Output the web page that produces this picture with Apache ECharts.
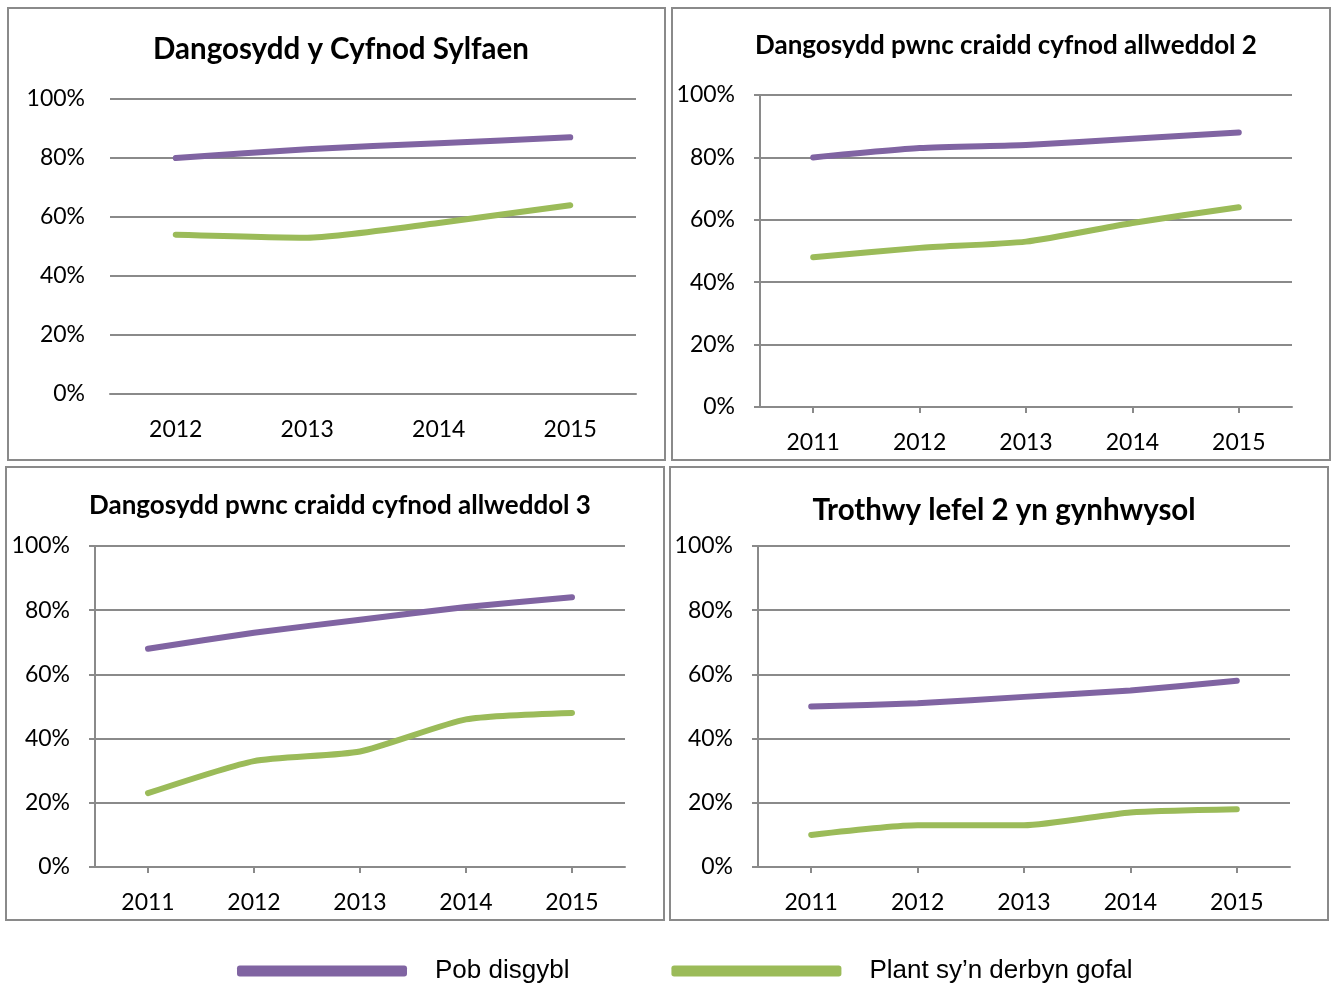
<!DOCTYPE html>
<html>
<head>
<meta charset="utf-8">
<script src="https://cdn.jsdelivr.net/npm/echarts@6/dist/echarts.min.js"></script>
<style>
  html, body { margin: 0; padding: 0; background: #fff; }
  #chart { width: 1336px; height: 985px; }
</style>
</head>
<body>
<div id="chart"></div>
<script>
// data (percent)
var titles = [
  'Dangosydd y Cyfnod Sylfaen',
  'Dangosydd pwnc craidd cyfnod allweddol 2',
  'Dangosydd pwnc craidd cyfnod allweddol 3',
  'Trothwy lefel 2 yn gynhwysol'
]
var years1 = ['2012', '2013', '2014', '2015']
var years5 = ['2011', '2012', '2013', '2014', '2015']
var seriesNames = ['Pob disgybl', 'Plant sy\u2019n derbyn gofal']

var fpAll = [80, 83, 85, 87]          // Cyfnod Sylfaen - pob disgybl
var fpCare = [54, 53, 58, 64]
var ks2All = [80, 83, 84, 86, 88]
var ks2Care = [48, 51, 53, 59, 64]
var ks3All = [68, 73, 77, 81, 84]
var ks3Care = [23, 33, 36, 46, 48]
var l2All = [50, 51, 53, 55, 58]
var l2Care = [10, 13, 13, 17, 18]

var PURPLE = '#8064A2'
var GREEN = '#9BBB59'
var GREY = '#8a8a8a'
var FONT = 'Lato, "Open Sans", sans-serif'

// panel layout: frame box + grid box + title position
var panels = [
  { box: [8, 8, 657, 452], grid: { left: 110, top: 99, width: 526, height: 295 }, title: [336, 44], size: 29.5, cats: years1, axis: false, data: [fpAll, fpCare] },
  { box: [672, 8, 658, 452], grid: { left: 760, top: 95, width: 532, height: 312 }, title: [1001, 41], size: 26, cats: years5, axis: true, data: [ks2All, ks2Care] },
  { box: [6, 467, 658, 453], grid: { left: 95, top: 546, width: 530, height: 321 }, title: [335, 501], size: 26, cats: years5, axis: true, data: [ks3All, ks3Care] },
  { box: [670, 467, 658, 453], grid: { left: 758, top: 546, width: 532, height: 321 }, title: [999, 505], size: 29.5, cats: years5, axis: true, data: [l2All, l2Care] }
]

var option = {
  backgroundColor: '#fff',
  animation: false,
  title: [],
  grid: [],
  xAxis: [],
  yAxis: [],
  series: [],
  graphic: [],
  legend: {
    left: 232, top: 953,
    itemWidth: 170, itemHeight: 11,
    itemGap: 102,
    icon: 'roundRect',
    data: seriesNames,
    textStyle: { fontFamily: '"Liberation Sans", Arial, sans-serif', fontSize: 26, color: '#000', padding: [0, 0, 3, 23] }
  }
}

panels.forEach(function (p, i) {
  option.graphic.push({
    type: 'rect', silent: true,
    shape: { x: p.box[0], y: p.box[1], width: p.box[2], height: p.box[3] },
    style: { fill: 'none', stroke: GREY, lineWidth: 2 }
  })
  option.title.push({
    text: titles[i],
    left: p.title[0], top: p.title[1],
    textAlign: 'center', textVerticalAlign: 'middle',
    textStyle: { fontFamily: FONT, fontWeight: 'bold', fontSize: p.size, color: '#000' }
  })
  option.grid.push(p.grid)
  option.xAxis.push({
    type: 'category', gridIndex: i, data: p.cats, boundaryGap: true,
    axisLine: { show: true, lineStyle: { color: GREY, width: 2 } },
    axisTick: { show: p.axis, alignWithLabel: true, length: 6, lineStyle: { color: GREY, width: 2 } },
    axisLabel: { margin: 24, fontFamily: FONT, fontSize: 23, color: '#000' }
  })
  option.yAxis.push({
    type: 'value', gridIndex: i, min: 0, max: 100, interval: 20,
    axisLine: { show: p.axis, lineStyle: { color: GREY, width: 2 } },
    axisTick: { show: p.axis, length: 6, lineStyle: { color: GREY, width: 2 } },
    splitLine: { lineStyle: { color: GREY, width: 2 } },
    axisLabel: { margin: 25, fontFamily: FONT, fontSize: 23, color: '#000', formatter: '{value}%' }
  })
  p.data.forEach(function (vals, k) {
    option.series.push({
      name: seriesNames[k], type: 'line', xAxisIndex: i, yAxisIndex: i,
      data: vals, smooth: 0.2, symbol: 'none',
      color: k == 0 ? PURPLE : GREEN,
      lineStyle: { width: 6, cap: 'round', join: 'round' }
    })
  })
})

var chart = echarts.init(document.getElementById('chart'))
chart.setOption(option)
</script>
</body>
</html>
